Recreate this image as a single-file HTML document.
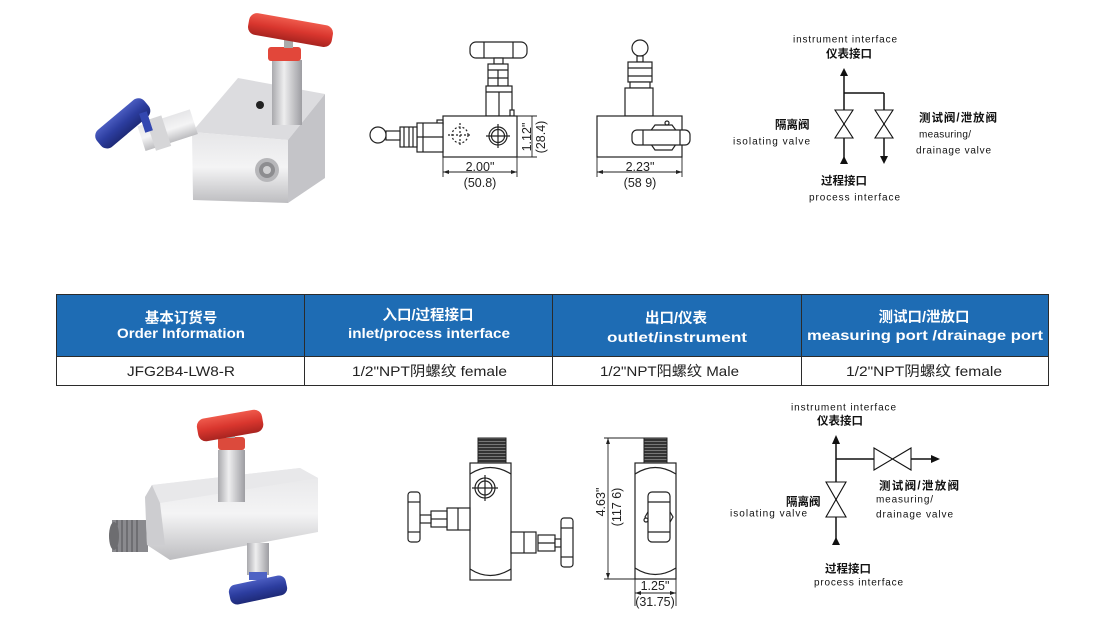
<!DOCTYPE html>
<html><head><meta charset="utf-8">
<style>
html,body{margin:0;padding:0;background:#fff;}
svg{display:block;}
.t{font-family:"Liberation Sans","Noto Sans CJK SC",sans-serif;}
.cj{font-family:"Liberation Sans","Noto Sans CJK SC",sans-serif;font-weight:700;}
</style></head><body>
<svg width="1100" height="636" viewBox="0 0 1100 636" xmlns="http://www.w3.org/2000/svg">
<defs>
<linearGradient id="steel" x1="0" y1="0" x2="0" y2="1">
<stop offset="0" stop-color="#e6e6e8"/><stop offset="0.5" stop-color="#f4f4f5"/><stop offset="1" stop-color="#bdbdc0"/></linearGradient>
<linearGradient id="steelH" x1="0" y1="0" x2="1" y2="0">
<stop offset="0" stop-color="#a9a9ad"/><stop offset="0.4" stop-color="#eeeeef"/><stop offset="1" stop-color="#9d9da2"/></linearGradient>
<linearGradient id="red" x1="0" y1="0" x2="0" y2="1">
<stop offset="0" stop-color="#ef5a4c"/><stop offset="0.5" stop-color="#d9362e"/><stop offset="1" stop-color="#a82420"/></linearGradient>
<linearGradient id="blue" x1="0" y1="0" x2="0" y2="1">
<stop offset="0" stop-color="#4a5cc0"/><stop offset="0.5" stop-color="#2c3d9f"/><stop offset="1" stop-color="#1e2a78"/></linearGradient>
<pattern id="thr" width="3" height="3" patternUnits="userSpaceOnUse"><rect width="3" height="3" fill="#333"/><rect width="3" height="1" fill="#777"/></pattern>
</defs>

<!-- ===== TOP PHOTO ===== -->
<g>
<polygon points="192,132 238,78 325,94 288,140" fill="#dcdcdf"/>
<polygon points="192,132 288,140 288,203 193,200" fill="url(#steel)"/>
<polygon points="288,140 325,94 325,178 288,203" fill="#c4c4c8"/>
<circle cx="260" cy="105" r="4" fill="#222"/>
<circle cx="267" cy="170" r="12" fill="#b7b7ba"/><circle cx="267" cy="170" r="8" fill="#8d8d90"/><circle cx="267" cy="170" r="4" fill="#d0d0d2"/>
<g transform="rotate(-18 165 130)">
<rect x="140" y="118" width="55" height="26" fill="url(#steel)"/>
<rect x="150" y="115" width="16" height="32" fill="#d6d6d8"/>
</g>
<g transform="rotate(-40 122 124)">
<rect x="92" y="113" width="62" height="22" rx="8" fill="url(#blue)"/>
</g>
<rect x="142" y="112" width="8" height="20" fill="#3347b0" transform="rotate(-18 146 122)"/>
<rect x="272" y="60" width="30" height="65" fill="url(#steelH)"/>
<rect x="268" y="47" width="33" height="14" rx="3" fill="#e2473a"/>
<rect x="284" y="36" width="9" height="12" fill="#aaa"/>
<g transform="rotate(10 290 30)">
<rect x="248" y="19" width="85" height="22" rx="8" fill="url(#red)"/>
</g>
</g>

<!-- ===== TOP DRAWING 1 ===== -->
<g fill="#fff" stroke="#222" stroke-width="1.2">
<rect x="470" y="42" width="57" height="16" rx="6"/>
<line x1="484" y1="42" x2="484" y2="58"/><line x1="513" y1="42" x2="513" y2="58"/>
<rect x="494" y="58" width="9" height="6"/>
<rect x="488" y="64" width="20" height="22"/>
<line x1="488" y1="70" x2="508" y2="70"/><line x1="488" y1="78" x2="508" y2="78"/><line x1="498" y1="70" x2="498" y2="86"/>
<rect x="486" y="86" width="26" height="30"/>
<line x1="486" y1="92" x2="512" y2="92"/><line x1="499" y1="92" x2="499" y2="116"/>
<rect x="510" y="110" width="4" height="6"/>
<rect x="443" y="116" width="74" height="41"/>
<circle cx="498" cy="136" r="9"/><circle cx="498" cy="136" r="6.5"/>
<line x1="486" y1="136" x2="510" y2="136"/><line x1="498" y1="124" x2="498" y2="148"/>
<circle cx="460" cy="135" r="8" stroke-dasharray="2 2"/>
<line x1="448" y1="135" x2="472" y2="135" stroke-dasharray="2 2"/><line x1="460" y1="123" x2="460" y2="147" stroke-dasharray="2 2"/>
<rect x="437" y="120" width="6" height="4"/>
<rect x="417" y="123" width="26" height="29"/>
<line x1="423" y1="123" x2="423" y2="152"/><line x1="417" y1="137" x2="443" y2="137"/>
<rect x="400" y="127" width="17" height="20"/>
<line x1="404" y1="127" x2="404" y2="147"/><line x1="409" y1="127" x2="409" y2="147"/><line x1="413" y1="127" x2="413" y2="147"/>
<rect x="386" y="131" width="14" height="9"/>
<circle cx="378" cy="135" r="8"/>
</g>
<g stroke="#222" stroke-width="0.9" fill="none">
<line x1="443" y1="157" x2="443" y2="177"/><line x1="517" y1="157" x2="517" y2="177"/>
<line x1="443" y1="172" x2="517" y2="172"/>
<line x1="517" y1="116" x2="537" y2="116"/><line x1="517" y1="157" x2="537" y2="157"/>
<line x1="532" y1="116" x2="532" y2="157"/>
</g>
<g fill="#222"><polygon points="443,172 449,170 449,174"/><polygon points="517,172 511,170 511,174"/></g>
<text class="t" x="480" y="171" font-size="12.5" text-anchor="middle" fill="#222">2.00"</text>
<text class="t" x="480" y="187" font-size="12.5" text-anchor="middle" fill="#222">(50.8)</text>
<text class="t" font-size="12.5" fill="#222" text-anchor="middle" transform="translate(531 137) rotate(-90)">1.12"</text>
<text class="t" font-size="12.5" fill="#222" text-anchor="middle" transform="translate(545 137) rotate(-90)">(28.4)</text>

<!-- ===== TOP DRAWING 2 ===== -->
<g fill="#fff" stroke="#222" stroke-width="1.2">
<circle cx="640" cy="48" r="8"/>
<rect x="637" y="56" width="6" height="6"/>
<rect x="628" y="62" width="24" height="20"/>
<line x1="628" y1="68" x2="652" y2="68"/><line x1="628" y1="76" x2="652" y2="76"/>
<rect x="630" y="82" width="20" height="6"/>
<rect x="625" y="88" width="28" height="28"/>
<rect x="597" y="116" width="85" height="41"/>
<polygon points="646,137 655,125 672,125 681,137 672,150 655,150"/>
<rect x="632" y="130" width="58" height="15" rx="5"/>
<line x1="643" y1="130" x2="643" y2="145"/><line x1="680" y1="130" x2="680" y2="145"/>
<circle cx="667" cy="123" r="2"/>
</g>
<g stroke="#222" stroke-width="0.9" fill="none">
<line x1="597" y1="157" x2="597" y2="177"/><line x1="682" y1="157" x2="682" y2="177"/>
<line x1="597" y1="172" x2="682" y2="172"/>
</g>
<g fill="#222"><polygon points="597,172 603,170 603,174"/><polygon points="682,172 676,170 676,174"/></g>
<text class="t" x="640" y="171" font-size="12.5" text-anchor="middle" fill="#222">2.23"</text>
<text class="t" x="640" y="187" font-size="12.5" text-anchor="middle" fill="#222">(58 9)</text>

<!-- ===== TOP SCHEMATIC ===== -->
<g stroke="#111" stroke-width="1.5" fill="none">
<line x1="844" y1="72" x2="844" y2="160"/>
<line x1="844" y1="93" x2="884" y2="93"/>
<line x1="884" y1="93" x2="884" y2="158"/>
</g>
<g fill="#fff" stroke="#111" stroke-width="1.1">
<polygon points="835,110 853,110 844,124"/><polygon points="835,138 853,138 844,124"/>
<polygon points="875,110 893,110 884,124"/><polygon points="875,138 893,138 884,124"/>
</g>
<g fill="#111">
<polygon points="844,68 840,76 848,76"/>
<polygon points="844,156 840,164 848,164"/>
<polygon points="884,164 880,156 888,156"/>
</g>
<g class="t" font-size="10" fill="#111">
<text x="793" y="42.5" textLength="104" lengthAdjust="spacing">instrument interface</text>
<text x="733" y="144.5" textLength="77" lengthAdjust="spacing">isolating valve</text>
<text x="919" y="137.5" textLength="52" lengthAdjust="spacing">measuring/</text>
<text x="916" y="153.5" textLength="75" lengthAdjust="spacing">drainage valve</text>
<text x="809" y="200.5" textLength="91" lengthAdjust="spacing">process interface</text>
</g>
<g class="cj" font-size="11.5" fill="#111">
<text x="849" y="57.5" text-anchor="middle">仪表接口</text>
<text x="775" y="128.5">隔离阀</text>
<text x="919" y="121.5" textLength="78" lengthAdjust="spacing">测试阀/泄放阀</text>
<text x="844" y="184.5" text-anchor="middle">过程接口</text>
</g>

<!-- ===== TABLE ===== -->
<rect x="56" y="294" width="993" height="62" fill="#1e6cb4"/>
<rect x="56" y="356" width="993" height="29" fill="#fff"/>
<g stroke="#2b2b2b" stroke-width="1" fill="none">
<rect x="56.5" y="294.5" width="992" height="91"/>
<line x1="56" y1="356.5" x2="1049" y2="356.5"/>
<line x1="304.5" y1="294" x2="304.5" y2="385"/>
<line x1="552.5" y1="294" x2="552.5" y2="385"/>
<line x1="801.5" y1="294" x2="801.5" y2="385"/>
</g>
<g class="cj" font-size="14.5" fill="#fff" text-anchor="middle">
<text x="181" y="323">基本订货号</text>
<text x="428" y="320">入口/过程接口</text>
<text x="676" y="323">出口/仪表</text>
<text x="924" y="322">测试口/泄放口</text>
</g>
<g class="t" font-size="13.5" font-weight="700" fill="#fff">
<text x="117" y="338" textLength="128" lengthAdjust="spacingAndGlyphs">Order Information</text>
<text x="348" y="338" textLength="162" lengthAdjust="spacingAndGlyphs">inlet/process interface</text>
<text x="607" y="342" textLength="140" lengthAdjust="spacingAndGlyphs">outlet/instrument</text>
<text x="807" y="340" textLength="236" lengthAdjust="spacingAndGlyphs">measuring port /drainage port</text>
</g>
<g class="t" font-size="14" fill="#222">
<text x="127" y="376" textLength="108" lengthAdjust="spacingAndGlyphs">JFG2B4-LW8-R</text>
<text x="352" y="376" textLength="155" lengthAdjust="spacingAndGlyphs">1/2"NPT阴螺纹 female</text>
<text x="600" y="376" textLength="139" lengthAdjust="spacingAndGlyphs">1/2"NPT阳螺纹 Male</text>
<text x="846" y="376" textLength="156" lengthAdjust="spacingAndGlyphs">1/2"NPT阴螺纹 female</text>
</g>

<!-- ===== BOTTOM PHOTO ===== -->
<g>
<rect x="112" y="520" width="36" height="32" fill="#8a8a8e"/>
<g stroke="#5c5c60" stroke-width="1.2"><line x1="117" y1="520" x2="117" y2="552"/><line x1="122" y1="520" x2="122" y2="552"/><line x1="127" y1="520" x2="127" y2="552"/><line x1="132" y1="520" x2="132" y2="552"/><line x1="137" y1="520" x2="137" y2="552"/></g>
<ellipse cx="114" cy="536" rx="5" ry="14" fill="#6d6d70"/>
<polygon points="145,497 152,485 300,468 318,478 318,532 170,560 147,545" fill="url(#steel)"/>
<polygon points="152,485 300,468 318,478 160,503" fill="#e8e8ea"/>
<polygon points="145,497 152,485 160,503 165,545 147,545" fill="#cdcdd0"/>
<rect x="218" y="450" width="27" height="52" fill="url(#steelH)"/>
<rect x="218" y="437" width="27" height="13" rx="3" fill="#dc4a3c"/>
<rect x="226" y="428" width="9" height="10" fill="#aaa"/>
<g transform="rotate(-10 230 425)"><rect x="197" y="414" width="66" height="23" rx="8" fill="url(#red)"/></g>
<rect x="247" y="543" width="22" height="32" fill="url(#steelH)"/>
<rect x="249" y="572" width="18" height="8" fill="#4e63c4"/>
<g transform="rotate(-12 258 590)"><rect x="229" y="580" width="58" height="20" rx="7" fill="url(#blue)"/></g>
</g>

<!-- ===== BOTTOM DRAWING LEFT ===== -->
<g fill="#fff" stroke="#222" stroke-width="1.2">
<rect x="470" y="463" width="41" height="117"/>
<path d="M470,474 Q490,461 511,474 M470,569 Q490,582 511,569" fill="none"/>
<circle cx="485" cy="488" r="10"/><circle cx="485" cy="488" r="7"/>
<line x1="472" y1="488" x2="498" y2="488"/><line x1="485" y1="475" x2="485" y2="501"/>
<rect x="447" y="508" width="23" height="22"/><line x1="458" y1="508" x2="458" y2="530"/>
<rect x="431" y="511" width="16" height="16"/><line x1="431" y1="519" x2="447" y2="519"/>
<rect x="420" y="515" width="11" height="8"/>
<rect x="408" y="492" width="12" height="50" rx="3"/>
<line x1="408" y1="502" x2="420" y2="502"/><line x1="408" y1="532" x2="420" y2="532"/>
<rect x="511" y="532" width="25" height="21"/><line x1="524" y1="532" x2="524" y2="553"/>
<rect x="538" y="535" width="17" height="16"/><line x1="538" y1="543" x2="555" y2="543"/>
<rect x="555" y="539" width="6" height="8"/>
<rect x="561" y="518" width="12" height="49" rx="3"/>
<line x1="561" y1="528" x2="573" y2="528"/><line x1="561" y1="557" x2="573" y2="557"/>
</g>
<rect x="478" y="438" width="28" height="25" fill="url(#thr)" stroke="#222"/>

<!-- ===== BOTTOM DRAWING RIGHT ===== -->
<g fill="#fff" stroke="#222" stroke-width="1.2">
<rect x="635" y="463" width="41" height="116"/>
<path d="M635,474 Q655,461 676,474 M635,568 Q655,581 676,568" fill="none"/>
<polygon points="645,517 652,505 666,505 673,517 666,529 652,529"/>
<rect x="648" y="492" width="22" height="50" rx="4"/>
<line x1="648" y1="502" x2="670" y2="502"/><line x1="648" y1="532" x2="670" y2="532"/>
<circle cx="646" cy="520" r="2"/>
</g>
<rect x="644" y="438" width="23" height="25" fill="url(#thr)" stroke="#222"/>
<g stroke="#222" stroke-width="0.9" fill="none">
<line x1="604" y1="438" x2="644" y2="438"/><line x1="604" y1="579" x2="635" y2="579"/>
<line x1="608" y1="438" x2="608" y2="579"/>
<line x1="635" y1="579" x2="635" y2="606"/><line x1="676" y1="579" x2="676" y2="606"/>
<line x1="635" y1="593" x2="676" y2="593"/>
</g>
<g fill="#222"><polygon points="608,438 606,444 610,444"/><polygon points="608,579 606,573 610,573"/>
<polygon points="635,593 641,591 641,595"/><polygon points="676,593 670,591 670,595"/></g>
<text class="t" font-size="12.5" fill="#222" text-anchor="middle" transform="translate(605 502) rotate(-90)">4.63"</text>
<text class="t" font-size="12.5" fill="#222" text-anchor="middle" transform="translate(621 507) rotate(-90)">(117 6)</text>
<text class="t" x="655" y="590" font-size="12.5" text-anchor="middle" fill="#222">1.25"</text>
<text class="t" x="655" y="606" font-size="12.5" text-anchor="middle" fill="#222">(31.75)</text>

<!-- ===== BOTTOM SCHEMATIC ===== -->
<g stroke="#111" stroke-width="1.5" fill="none">
<line x1="836" y1="440" x2="836" y2="545"/>
<line x1="836" y1="459" x2="874" y2="459"/>
<line x1="911" y1="459" x2="933" y2="459"/>
</g>
<g fill="#fff" stroke="#111" stroke-width="1.1">
<polygon points="874,448 874,470 892.5,459"/><polygon points="911,448 911,470 892.5,459"/>
<polygon points="826,482 846,482 836,499.5"/><polygon points="826,517 846,517 836,499.5"/>
</g>
<g fill="#111">
<polygon points="836,435 832,444 840,444"/>
<polygon points="940,459 931,455 931,463"/>
<polygon points="836,537 832,545 840,545"/>
</g>
<g class="t" font-size="10" fill="#111">
<text x="791" y="410.5" textLength="105" lengthAdjust="spacing">instrument interface</text>
<text x="876" y="502.5" textLength="57" lengthAdjust="spacing">measuring/</text>
<text x="876" y="517.5" textLength="77" lengthAdjust="spacing">drainage valve</text>
<text x="730" y="516.5" textLength="77" lengthAdjust="spacing">isolating valve</text>
<text x="814" y="585.5" textLength="89" lengthAdjust="spacing">process interface</text>
</g>
<g class="cj" font-size="11.5" fill="#111">
<text x="840" y="424.5" text-anchor="middle">仪表接口</text>
<text x="879" y="489.5" textLength="80" lengthAdjust="spacing">测试阀/泄放阀</text>
<text x="786" y="505.5">隔离阀</text>
<text x="848" y="572.5" text-anchor="middle">过程接口</text>
</g>
</svg>
</body></html>
